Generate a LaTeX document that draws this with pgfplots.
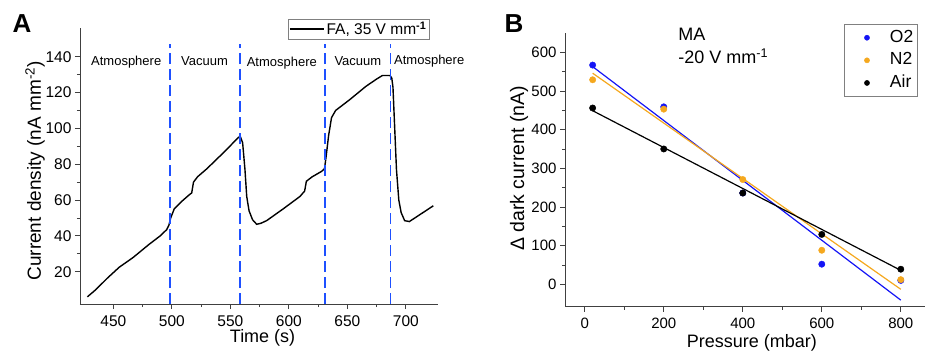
\documentclass[border=0pt]{standalone}
\usepackage{fontspec}
\setmainfont{Liberation Sans}
\usepackage{pgfplots}
\pgfplotsset{compat=1.18}
\definecolor{dblue}{RGB}{30,80,255}
\definecolor{pblue}{RGB}{20,20,245}
\definecolor{porange}{RGB}{245,168,30}
\begin{document}
\begin{tikzpicture}
\useasboundingbox (0,0) rectangle (926pt,-353pt);
\pgfplotsset{
 mystyle/.style={
  scale only axis,
  axis x line*=bottom, axis y line*=left,
  axis line style={black!75, line width=0.9pt},
  tick style={black!75, line width=0.8pt},
  tick align=outside,
  major tick length=5pt, minor tick length=3pt,
  minor tick num=1,
  /pgf/number format/assume math mode=true,
  xticklabel style={yshift=-3pt},
  clip=false,
 }}
\begin{axis}[mystyle, at={(80pt,-304pt)}, anchor=south west, width=358pt, height=276pt,
  xmin=421.5, xmax=727.5, ymin=2, ymax=156,
  xtick={450,500,...,700}, ytick={20,40,...,140},
  ticklabel style={font=\fontsize{15.5}{17}\selectfont},
  xlabel={Time (s)},
  ylabel={Current density (nA mm\textsuperscript{-2})},
  xlabel style={font=\fontsize{18}{20}\selectfont, at={(rel axis cs:0.51,-0.123)}, anchor=center},
  ylabel style={font=\fontsize{19}{21}\selectfont, at={(rel axis cs:-0.1257,0.482)}, anchor=center},
  legend style={at={(rel axis cs:0.581,1.033)}, anchor=north west, draw=black!50,
    font=\fontsize{15.5}{17}\selectfont, inner sep=1pt},
  legend image code/.code={\draw[#1] (0pt,0pt) -- (34pt,0pt);},
]
\addplot[black, line width=1.4pt] coordinates {
(427.8,6) (435,10) (445,16.5) (455,22.5) (467,28) (480,35) (490,40) (495.6,43.5)
(497.5,46) (499,50) (502,55) (508,59) (515,63) (517,64) (518.5,70) (522,73)
(530,77.5) (545,87) (557,95) (558.5,95.5) (560.5,92) (562.5,77) (564,62) (566,54)
(569,49) (572.5,46.5) (576,47) (581,48.5) (595,55) (609.5,62) (613.5,65) (615,70.5)
(620,73) (628,76) (630.5,77.5) (632,85) (634,96) (636.5,106) (640,110) (652,116)
(666,123.5) (675,127.5) (680,129.5) (684,129.5) (686.5,129.5) (688,128) (689,123)
(690.5,100) (692,77) (694,60) (696,53) (699,48.5) (703,48) (710,51) (723.5,56.8)
};
\addlegendentry{FA, 35 V mm\textsuperscript{\textbf{-1}}}
\addplot[dblue, line width=1.6pt, dash pattern=on 11pt off 5pt, forget plot] coordinates {(498.4,2) (498.4,147)};
\addplot[dblue, line width=1.6pt, dash pattern=on 11pt off 5pt, forget plot] coordinates {(558.2,2) (558.2,147)};
\addplot[dblue, line width=1.6pt, dash pattern=on 11pt off 5pt, forget plot] coordinates {(630.8,2) (630.8,147)};
\addplot[dblue, line width=1.6pt, dash pattern=on 11pt off 5pt, forget plot] coordinates {(686.9,2) (686.9,147)};
\node[font=\fontsize{13}{15}\selectfont] at (axis cs:461,137) {Atmosphere};
\node[font=\fontsize{13}{15}\selectfont] at (axis cs:528,137.5) {Vacuum};
\node[font=\fontsize{13}{15}\selectfont] at (axis cs:594,136.5) {Atmosphere};
\node[font=\fontsize{13}{15}\selectfont] at (axis cs:659,137.5) {Vacuum};
\node[font=\fontsize{13}{15}\selectfont] at (axis cs:720,137.5) {Atmosphere};
\end{axis}
\begin{axis}[mystyle, at={(565pt,-306.7pt)}, anchor=south west, width=359.5pt, height=273.7pt,
  xmin=-50, xmax=860, ymin=-58, ymax=650,
  xtick={0,200,...,800}, ytick={0,100,...,600},
  ticklabel style={font=\fontsize{15}{17}\selectfont},
  xlabel={Pressure (mbar)},
  ylabel={Δ dark current (nA)},
  xlabel style={font=\fontsize{18}{20}\selectfont, at={(rel axis cs:0.52,-0.133)}, anchor=center},
  ylabel style={font=\fontsize{19.5}{21}\selectfont, at={(rel axis cs:-0.128,0.505)}, anchor=center},
  legend style={at={(rel axis cs:0.7755,1.032)}, anchor=north west, draw=black!50,
    font=\fontsize{17.5}{20}\selectfont, inner xsep=2pt, inner ysep=2pt,
    nodes={text height=13pt, text depth=4pt, inner ysep=2.8pt}},
  legend image code/.code={\path[draw=none,fill=none] (-21pt,0pt) rectangle (21pt,0.1pt); \draw[#1, mark size=2.6pt] plot coordinates {(0pt,0pt)};},
  legend cell align=left,
]
\addplot[only marks, mark=*, mark size=3.2pt, pblue] coordinates {(20,567) (200,459) (400,236) (600,52) (800,10)};
\addlegendentry{O2}
\addplot[only marks, mark=*, mark size=3.2pt, porange] coordinates {(20,529) (200,453) (400,271) (600,88) (800,12)};
\addlegendentry{N2}
\addplot[only marks, mark=*, mark size=3.2pt, black] coordinates {(20,456) (200,350) (400,236) (600,129) (800,39)};
\addlegendentry{Air}
\addplot[pblue, line width=1.2pt, forget plot] coordinates {(20,563) (800,-41)};
\addplot[porange, line width=1.2pt, forget plot] coordinates {(20,546) (800,-13)};
\addplot[black, line width=1.2pt, forget plot] coordinates {(20,449) (800,36)};
\node[font=\fontsize{18}{20}\selectfont, anchor=west] at (axis cs:228,646) {MA};
\node[font=\fontsize{18}{20}\selectfont, anchor=west] at (axis cs:228,589) {-20 V mm\textsuperscript{-1}};
\end{axis}
\node[font=\fontsize{26}{28}\selectfont\bfseries] at (22pt,-24pt) {A};
\node[font=\fontsize{26}{28}\selectfont\bfseries] at (514pt,-24pt) {B};
\end{tikzpicture}
\end{document}
